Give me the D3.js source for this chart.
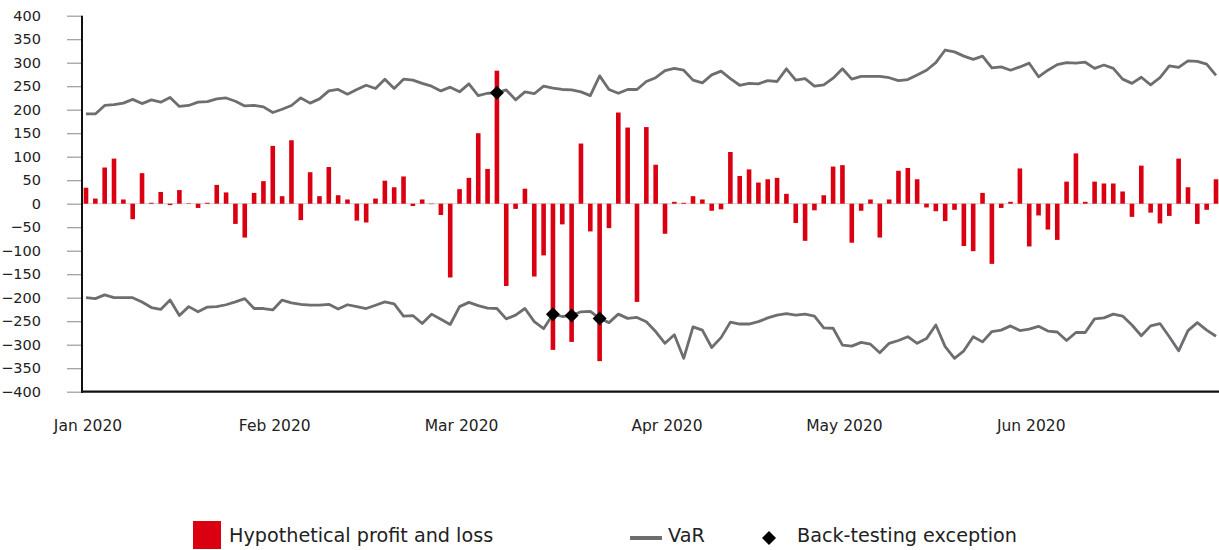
<!DOCTYPE html>
<html>
<head>
<meta charset="utf-8">
<script src="https://cdn.jsdelivr.net/npm/d3@7"></script>
<style>
  html, body { margin: 0; padding: 0; background: #fff; }
  svg { display: block; }
  text { font-family: "DejaVu Sans", "Liberation Sans", Arial, sans-serif; fill: #222; }
</style>
</head>
<body>
<svg id="chart" width="1219" height="550"></svg>
<script>
// ---- Data ----
// Daily hypothetical profit and loss (one value per trading day, Jan–Jun 2020)
const pnl = [
  34, 11, 77, 96, 9, -33, 65, 2, 25, -3, 29, 1, -9, 2, 40, 24, -43, -72, 23, 48,
  123, 16, 135, -35, 67, 16, 78, 18, 9, -36, -40, 11, 49, 35, 58, -5, 9, -1, -24, -157,
  31, 55, 150, 74, 283, -175, -11, 32, -155, -110, -311, -44, -294, 128, -59, -335, -52, 194, 162, -209,
  163, 83, -64, 4, 2, 16, 9, -15, -12, 110, 59, 73, 45, 52, 55, 21, -41, -79, -14, 18,
  79, 82, -83, -15, 9, -72, 9, 70, 76, 52, -8, -16, -37, -13, -90, -101, 23, -128, -9, 4,
  75, -91, -25, -55, -77, 47, 107, 4, 47, 43, 43, 26, -28, 81, -19, -42, -26, 96, 35, -43,
  -13, 52
];
// Upper VaR line
const varUpper = [
  191, 191, 209, 211, 214, 222, 213, 221, 216, 226, 207, 209, 216, 217, 223, 225, 218, 208, 209, 206,
  194, 201, 209, 225, 214, 223, 240, 243, 233, 243, 252, 245, 265, 245, 265, 263, 256, 250, 240, 248,
  238, 255, 230, 235, 236, 242, 221, 238, 234, 250, 246, 243, 242, 238, 230, 272, 243, 235, 243, 243,
  260, 268, 283, 288, 284, 263, 257, 274, 282, 266, 252, 256, 255, 262, 260, 287, 263, 266, 250, 253,
  267, 287, 265, 271, 271, 271, 268, 262, 264, 274, 284, 300, 327, 323, 314, 307, 314, 289, 291, 284,
  291, 299, 270, 284, 296, 300, 299, 301, 288, 295, 288, 265, 256, 269, 253, 268, 293, 290, 304, 303,
  297, 273
];
// Lower VaR line
const varLower = [
  -200, -202, -194, -200, -200, -200, -209, -221, -225, -205, -238, -219, -230, -220, -219, -215, -209, -202, -223, -223,
  -226, -205, -211, -214, -216, -216, -214, -224, -215, -219, -223, -216, -209, -213, -239, -238, -255, -235, -246, -257,
  -219, -210, -217, -222, -223, -245, -237, -223, -251, -266, -235, -240, -238, -230, -229, -244, -253, -235, -244, -242,
  -251, -272, -297, -279, -329, -262, -269, -306, -285, -252, -256, -256, -251, -243, -237, -234, -237, -235, -239, -264,
  -265, -301, -303, -295, -299, -317, -297, -291, -283, -297, -287, -258, -304, -329, -313, -283, -294, -272, -269, -260,
  -270, -267, -261, -271, -273, -291, -274, -274, -245, -243, -235, -239, -258, -281, -260, -255, -283, -313, -270, -253,
  -269, -282
];
// Back-testing exceptions: trading-day index and the VaR value it breached
const exceptionDay = [44, 50, 52, 55];
const exceptionValue = [236, -235, -238, -244];
// X-axis tick labels and the trading day each one sits on
const monthLabels = ["Jan 2020", "Feb 2020", "Mar 2020", "Apr 2020", "May 2020", "Jun 2020"];
const monthDay = [0, 20, 40, 62, 81, 101];
// Y-axis ticks
const yTicks = [400, 350, 300, 250, 200, 150, 100, 50, 0, -50, -100, -150, -200, -250, -300, -350, -400];

// ---- Chart ----
const svg = d3.select("#chart");
const days = pnl.map((d, i) => i);

const x = d3.scalePoint().domain(days).range([86, 1216]);
const y = d3.scaleLinear().domain([-400, 400]).range([391.7, 15.7]);

const RED = "#db0011";
const GREY = "#6d6e71";
const barW = 4.6;

// y axis ticks + labels
const yAxis = svg.append("g").attr("transform", "translate(82,0)")
  .call(d3.axisLeft(y).tickValues(yTicks).tickSize(15).tickPadding(26).tickFormat(d3.format("d")));
yAxis.select(".domain").remove();
yAxis.selectAll(".tick line").attr("stroke", "#9a9a9a").attr("stroke-width", 1.2);
yAxis.selectAll(".tick text").attr("font-size", "14.5px").attr("fill", "#222")
  .attr("font-family", "DejaVu Sans, Liberation Sans, Arial, sans-serif");

// zero line
svg.append("line").attr("x1", 82).attr("x2", 1219).attr("y1", y(0)).attr("y2", y(0))
  .attr("stroke", "#d0d0d0").attr("stroke-width", 1);

// bars
svg.append("g").selectAll("rect").data(pnl).join("rect")
  .attr("x", (d, i) => x(i) - barW / 2)
  .attr("y", d => y(Math.max(0, d)))
  .attr("width", barW)
  .attr("height", d => Math.abs(y(d) - y(0)))
  .attr("fill", RED);

// VaR lines
const line = d3.line().x((d, i) => x(i)).y(d => y(d));
[varUpper, varLower].forEach(s => {
  svg.append("path").datum(s).attr("d", line)
    .attr("fill", "none").attr("stroke", GREY).attr("stroke-width", 2.8)
    .attr("stroke-linejoin", "round");
});

// exception diamonds
const diamond = "M0,-7L7,0L0,7L-7,0Z";
svg.append("g").selectAll("path").data(exceptionDay).join("path")
  .attr("d", diamond)
  .attr("transform", (d, i) => `translate(${x(d)},${y(exceptionValue[i])})`)
  .attr("fill", "#000");

// axis lines
svg.append("line").attr("x1", 82).attr("x2", 82).attr("y1", y(400)).attr("y2", y(-400) + 1)
  .attr("stroke", "#111").attr("stroke-width", 2);
svg.append("line").attr("x1", 81).attr("x2", 1219).attr("y1", y(-400)).attr("y2", y(-400))
  .attr("stroke", "#111").attr("stroke-width", 2.2);

// x tick labels
svg.append("g").selectAll("text").data(monthLabels).join("text")
  .attr("x", (d, i) => x(monthDay[i]) + 2)
  .attr("y", 431)
  .attr("text-anchor", "middle")
  .attr("font-size", "15.5px")
  .text(d => d);

// legend
const lg = svg.append("g");
lg.append("rect").attr("x", 193).attr("y", 521).attr("width", 28).attr("height", 28).attr("fill", RED);
lg.append("text").attr("x", 229).attr("y", 542).attr("font-size", "19.2px").text("Hypothetical profit and loss");
lg.append("line").attr("x1", 630).attr("x2", 662).attr("y1", 538).attr("y2", 538)
  .attr("stroke", GREY).attr("stroke-width", 4);
lg.append("text").attr("x", 668).attr("y", 542).attr("font-size", "19.2px").text("VaR");
lg.append("path").attr("d", diamond).attr("transform", "translate(769,538)").attr("fill", "#000");
lg.append("text").attr("x", 797).attr("y", 542).attr("font-size", "19.2px").text("Back-testing exception");
</script>
</body>
</html>
